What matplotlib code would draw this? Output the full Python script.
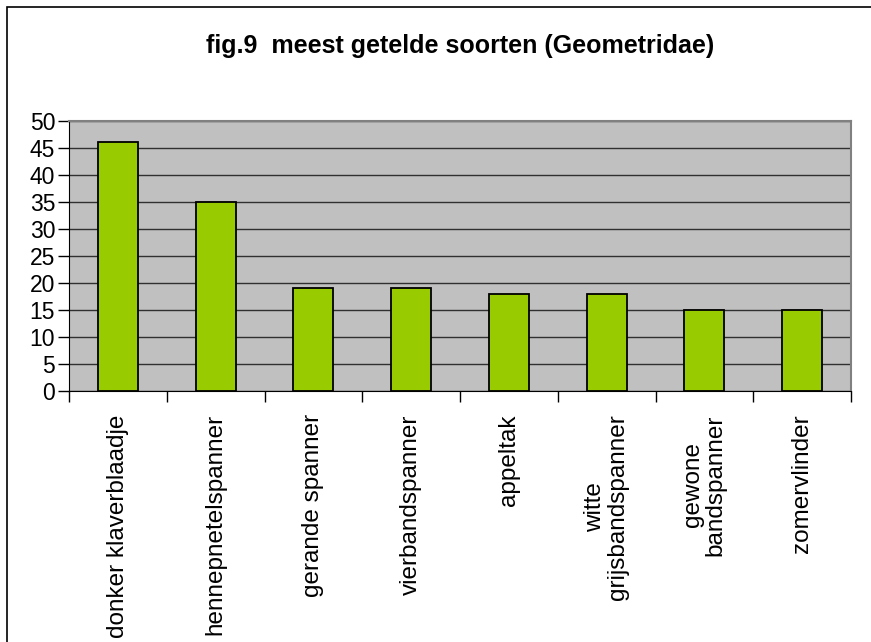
import matplotlib.pyplot as plt
from matplotlib import ticker
from matplotlib.patches import Rectangle

plt.rcParams['font.family'] = ['Liberation Sans', 'DejaVu Sans']

soorten = ['donker klaverblaadje', 'hennepnetelspanner', 'gerande spanner',
           'vierbandspanner', 'appeltak', 'witte\ngrijsbandspanner',
           'gewone\nbandspanner', 'zomervlinder']
aantallen = [46, 35, 19, 19, 18, 18, 15, 15]
titel = 'fig.9  meest getelde soorten (Geometridae)'

fig = plt.figure(figsize=(8.71, 6.42), dpi=100)
# outer chart border (right and bottom edges fall outside the picture)
fig.patches.append(Rectangle((7 / 871, -0.05), 1.0, 1.05 - 7 / 642,
                             transform=fig.transFigure, fill=False,
                             edgecolor='black', linewidth=1.2))

ax = fig.add_axes([69 / 871, 1 - 391 / 642, 782 / 871, 270.3 / 642])
ax.set_facecolor('#C0C0C0')

x = list(range(len(soorten)))
ax.bar(x, aantallen, width=0.41, color='#99CC00', edgecolor='black',
       linewidth=1.3, zorder=3)

ax.set_xlim(-0.5, len(soorten) - 0.5)
ax.set_ylim(0, 50)
ax.yaxis.set_major_locator(ticker.MultipleLocator(5))
ax.grid(axis='y', color='#303030', linewidth=1, zorder=1)
ax.set_axisbelow(True)

# ticks between categories
ax.set_xticks([i - 0.5 for i in range(len(soorten) + 1)])
ax.set_xticklabels([])
ax.tick_params(axis='x', direction='out', length=8, width=1, color='black')
ax.tick_params(axis='y', direction='out', length=8, width=1, color='black',
               labelsize=16.5, pad=2)

for i, s in enumerate(soorten):
    ax.text(i, -4.3, s, rotation=90, ha='center', va='top',
            multialignment='center', fontsize=17.5, linespacing=1.05)

ax.spines['left'].set_color('black')
ax.spines['bottom'].set_color('black')
ax.spines['top'].set_color('#808080')
ax.spines['right'].set_color('#808080')
ax.spines['top'].set_linewidth(1.5)
ax.spines['right'].set_linewidth(1.5)

fig.text(460 / 871, 1 - 46 / 642, titel, ha='center', va='center',
         fontsize=18, fontweight='bold')

fig.savefig('out.png', dpi=100)
